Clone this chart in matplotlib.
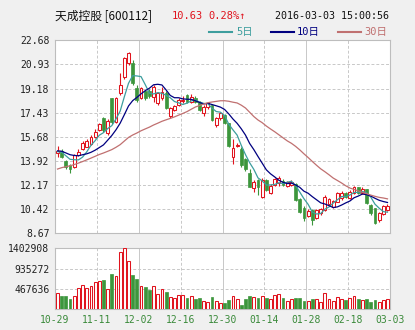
import numpy as np
import pandas as pd
import matplotlib
matplotlib.use('Agg')
import matplotlib.pyplot as plt
from matplotlib.lines import Line2D

plt.rcParams['font.family'] = ['DejaVu Sans Mono', 'Noto Sans CJK SC']

# 日K数据 2015-10-29 ~ 2016-03-03
open_ = [14.48, 14.66, 13.93, 13.62, 13.45, 14.35, 14.76, 14.95, 15.15, 15.64,
         16.17, 17.02, 15.93, 18.47, 16.77, 18.83, 20.04, 21.02, 21.02, 19.20,
         18.47, 19.00, 19.03, 18.59, 18.11, 18.47, 18.88, 17.18, 17.62, 17.98,
         18.30, 18.71, 18.23, 18.50, 18.23, 17.38, 17.80, 17.98, 16.53, 17.01,
         17.26, 16.65, 14.23, 15.00, 14.76, 14.03, 13.00, 11.93, 12.53, 11.32,
         12.53, 11.56, 12.17, 12.34, 12.48, 12.10, 12.17, 12.22, 11.15, 10.47,
         9.90, 10.35, 9.75, 10.11, 10.35, 10.79, 10.55, 10.96, 11.20, 11.56,
         11.20, 11.56, 12.00, 11.60, 11.85, 10.71, 10.47, 9.62, 10.06, 10.35]
high = [15.00, 14.75, 14.00, 13.70, 14.45, 14.80, 15.35, 15.50, 15.80, 16.20,
        16.70, 17.10, 16.95, 18.50, 18.55, 20.30, 21.50, 21.86, 21.25, 19.40,
        19.30, 19.10, 19.15, 19.45, 18.95, 19.30, 19.00, 17.80, 18.00, 18.50,
        18.60, 18.80, 18.75, 18.60, 18.30, 17.95, 18.20, 18.00, 17.10, 17.40,
        17.30, 16.70, 15.50, 15.25, 14.90, 14.10, 13.30, 12.53, 12.60, 12.65,
        12.60, 12.20, 12.70, 12.78, 12.60, 12.45, 12.50, 12.30, 11.20, 10.64,
        10.40, 10.45, 10.45, 10.50, 11.40, 11.20, 11.10, 11.65, 11.70, 11.65,
        11.80, 12.10, 12.05, 12.00, 11.90, 10.80, 10.50, 10.20, 10.70, 10.75]
low = [14.20, 14.15, 13.31, 13.06, 13.40, 14.30, 14.70, 14.90, 15.10, 15.55,
       16.10, 16.00, 15.80, 16.60, 16.70, 18.70, 19.90, 20.90, 19.40, 18.20,
       18.40, 18.35, 18.50, 18.23, 18.00, 18.35, 17.70, 17.05, 17.55, 17.90,
       18.10, 18.10, 18.10, 18.15, 17.55, 17.20, 17.70, 16.80, 16.40, 16.90,
       16.60, 14.95, 13.70, 14.90, 13.50, 13.20, 12.00, 11.68, 11.45, 11.20,
       11.70, 11.50, 12.10, 12.10, 12.10, 12.00, 12.10, 11.00, 10.15, 9.57,
       9.80, 9.26, 9.70, 10.00, 10.30, 10.70, 10.50, 10.90, 11.10, 11.25,
       11.15, 11.50, 11.50, 11.50, 10.80, 10.00, 9.35, 9.50, 9.95, 10.30]
close = [14.66, 14.23, 13.45, 13.31, 14.35, 14.59, 15.24, 15.37, 15.68, 16.04,
         16.58, 16.17, 16.84, 16.77, 18.47, 19.44, 21.38, 21.74, 19.56, 18.35,
         19.20, 18.47, 18.64, 19.27, 18.83, 18.95, 17.74, 17.74, 17.91, 18.35,
         18.35, 18.23, 18.55, 18.23, 17.62, 17.86, 18.15, 16.89, 17.01, 17.38,
         16.65, 15.00, 14.83, 15.10, 13.62, 13.31, 12.05, 12.41, 12.00, 12.53,
         11.80, 12.09, 12.58, 12.65, 12.17, 12.35, 12.41, 11.08, 10.23, 9.75,
         10.30, 9.62, 10.35, 10.40, 11.32, 11.13, 11.03, 11.56, 11.56, 11.32,
         11.68, 12.00, 11.56, 11.90, 10.84, 10.11, 9.43, 10.11, 10.64, 10.63]
volume = [362000, 300000, 300000, 231000, 293000, 486000, 547000, 486000, 524000, 624000,
          647000, 671000, 462000, 809000, 763000, 1318000, 1402908, 1110000, 786000, 694000,
          524000, 509000, 439000, 524000, 339000, 462000, 393000, 277000, 262000, 324000,
          324000, 262000, 300000, 231000, 254000, 185000, 162000, 277000, 185000, 146000,
          131000, 208000, 300000, 231000, 92000, 231000, 300000, 277000, 254000, 300000,
          254000, 231000, 324000, 347000, 262000, 185000, 231000, 262000, 262000, 185000,
          185000, 231000, 231000, 162000, 362000, 231000, 185000, 277000, 231000, 208000,
          262000, 300000, 231000, 208000, 231000, 162000, 208000, 162000, 208000, 231000]
# closes before 10-29, only used for the moving averages
prior_close = [11.2, 11.4, 11.3, 11.6, 11.5, 11.8, 11.7, 11.9, 12.1,
               12.6, 12.9, 13.2, 13.0, 13.4, 13.7, 13.5, 13.9, 14.2, 14.0, 14.3,
               14.5, 14.7, 14.6, 14.9, 14.8, 14.5, 14.7, 14.6, 14.5]

price_ticks = [8.67, 10.42, 12.17, 13.92, 15.68, 17.43, 19.18, 20.93, 22.68]
vol_ticks = [467636, 935272, 1402908]
date_labels = ['10-29', '11-11', '12-02', '12-16', '12-30', '01-14', '01-28', '02-18', '03-03']
ma_periods = [5, 10, 30]
ma_colors = ['#3d9e9e', '#000080', '#c07070']

RED = '#e0141e'
GREEN = '#3c963c'
GRID = '#c8c8c8'

o = np.array(open_)
c = np.array(close)
h = np.array(high)
l = np.array(low)
x = np.arange(len(c))
up = c >= o

fig = plt.figure(figsize=(4.15, 3.3), dpi=100, facecolor='#f0f0f0')
ax = fig.add_axes([55/415, 1 - 233/330, 335/415, 192.6/330])
axv = fig.add_axes([55/415, 1 - 309/330, 335/415, 60.7/330])

xmin, xmax = -0.6, 79.6
div = np.linspace(xmin, xmax, 9)

for a in (ax, axv):
    a.set_facecolor('white')
    a.set_xlim(xmin, xmax)
    for s in a.spines.values():
        s.set_color('#bdbdbd')
        s.set_linewidth(0.8)
    for k in range(1, 8):
        a.axvline(div[k], color=GRID, lw=0.7,
                  ls='-' if k % 2 == 0 else (0, (3, 2)), zorder=0)
    a.tick_params(length=0, labelsize=7, colors='#202020', pad=4)

# K线
ax.vlines(x[up], l[up], h[up], color=RED, lw=0.8, zorder=2)
ax.vlines(x[~up], l[~up], h[~up], color=GREEN, lw=0.8, zorder=2)
body = np.maximum(np.abs(c - o), 0.04)
bottom = np.minimum(o, c)
ax.bar(x[up], body[up], bottom=bottom[up], width=0.68, facecolor='white',
       edgecolor=RED, linewidth=0.75, zorder=3)
ax.bar(x[~up], body[~up], bottom=bottom[~up], width=0.68, facecolor=GREEN,
       edgecolor=GREEN, linewidth=0.5, zorder=3)

# 均线
all_close = pd.Series(prior_close + close)
for n, col in zip(ma_periods, ma_colors):
    ma = all_close.rolling(n).mean().iloc[len(prior_close):].values
    ax.plot(x, ma, color=col, lw=0.9, zorder=4)

ax.set_ylim(price_ticks[0], price_ticks[-1])
ax.set_yticks(price_ticks)
ax.set_yticklabels(['%.2f' % v for v in price_ticks])
for v in price_ticks[1:-1]:
    ax.axhline(v, color=GRID, lw=0.7, ls=(0, (3, 2)), zorder=0)
ax.set_xticks([])

# 成交量
v = np.array(volume)
axv.bar(x[up], v[up], width=0.68, facecolor='white', edgecolor=RED, linewidth=0.75, zorder=3)
axv.bar(x[~up], v[~up], width=0.68, facecolor=GREEN, edgecolor=GREEN, linewidth=0.5, zorder=3)
axv.set_ylim(0, vol_ticks[-1])
axv.set_yticks(vol_ticks)
axv.set_yticklabels([str(t) for t in vol_ticks])
for t in vol_ticks[:-1]:
    axv.axhline(t, color=GRID, lw=0.7, ls=(0, (3, 2)), zorder=0)
axv.set_xticks(div)
axv.set_xticklabels(date_labels, color='#3a8a3a')

# 标题栏
def px(xp, yp):
    return xp / 415, 1 - yp / 330

fig.text(*px(55, 16), '天成控股 [600112]', fontsize=8.5, va='center',
         family=['Noto Sans CJK SC'], color='#111111')
fig.text(*px(172, 16), '10.63', fontsize=7.5, va='center', color=RED)
fig.text(*px(208, 16), '0.28%↑', fontsize=7.5, va='center', color=RED)
fig.text(*px(389, 16), '2016-03-03 15:00:56', fontsize=7.2, va='center',
         ha='right', color='#111111')

legend_pos = [(209, 236, '5日'), (271, 297, '10日'), (338, 364, '30日')]
for (lx, tx, lab), col in zip(legend_pos, ma_colors):
    fig.add_artist(Line2D([lx / 415, (lx + 23) / 415], [1 - 32/330] * 2,
                          color=col, lw=1.5))
    fig.text(*px(tx, 32), lab, fontsize=7.5, va='center', color=col)

fig.savefig('out.png', dpi=100, facecolor=fig.get_facecolor())
